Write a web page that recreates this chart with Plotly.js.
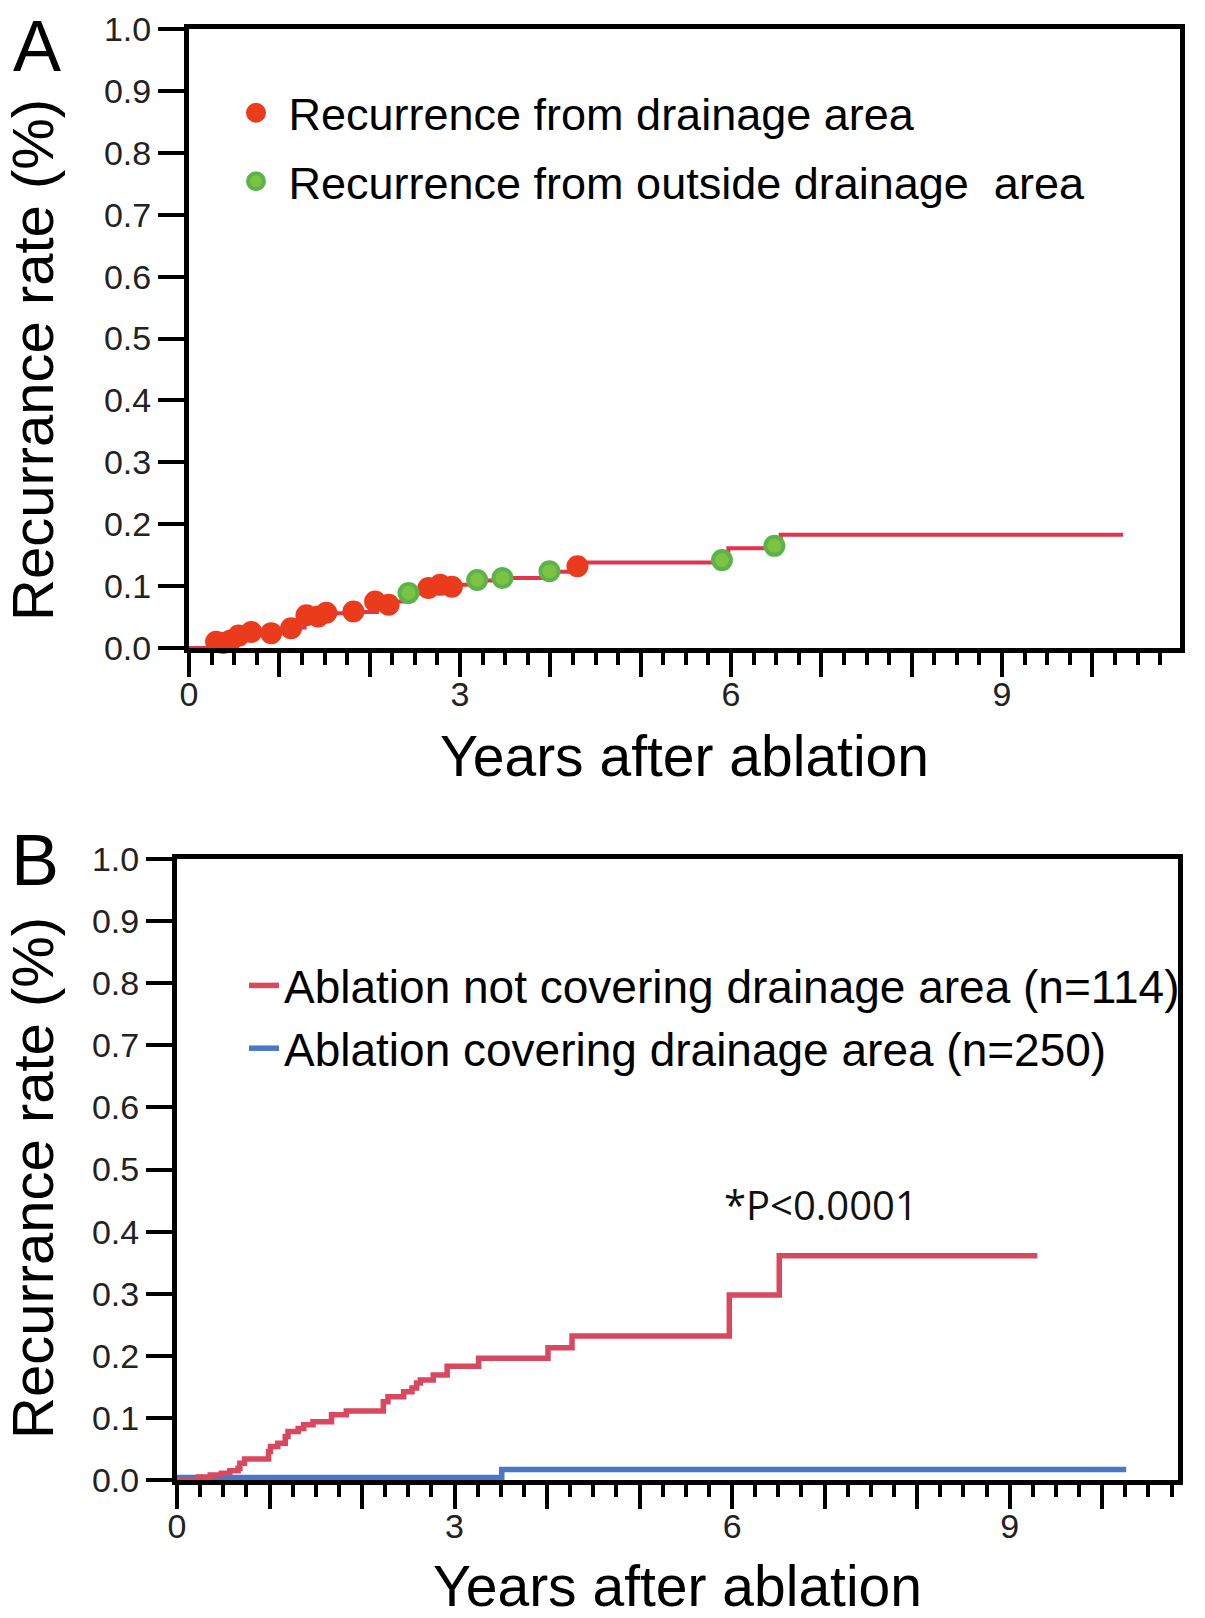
<!DOCTYPE html>
<html>
<head>
<meta charset="utf-8">
<script src="https://cdn.plot.ly/plotly-3.0.1.min.js"></script>
<style>
html,body{margin:0;padding:0;background:#fff;}
#chart{width:1205px;height:1618px;}
</style>
</head>
<body>
<div id="chart"></div>
<script>
// ---------- Panel A data (cumulative recurrence curve + events) ----------
const curveA_t = [0, 0.33, 0.42, 0.54, 0.65, 0.90, 1.14, 1.28, 1.45, 1.51, 1.80, 2.08, 2.17, 2.42, 2.63, 2.77, 2.88, 3.17, 3.45, 3.97, 4.30, 5.97, 6.55, 10.34];
const curveA_v = [0, 0.010, 0.012, 0.020, 0.025, 0.027, 0.033, 0.050, 0.053, 0.056, 0.058, 0.072, 0.075, 0.088, 0.097, 0.100, 0.102, 0.109, 0.113, 0.123, 0.138, 0.161, 0.183, 0.183];
const drainT = [0.30, 0.38, 0.46, 0.55, 0.69, 0.91, 1.13, 1.30, 1.43, 1.52, 1.82, 2.06, 2.21, 2.65, 2.78, 2.91, 4.30];
const drainV = [0.010, 0.008, 0.012, 0.020, 0.026, 0.024, 0.032, 0.053, 0.051, 0.057, 0.059, 0.075, 0.070, 0.097, 0.102, 0.099, 0.132];
const outsideT = [2.43, 3.19, 3.47, 3.99, 5.90, 6.48];
const outsideV = [0.089, 0.110, 0.113, 0.124, 0.142, 0.165];

// ---------- Panel B data ----------
const notCovT = [0, 0.23, 0.36, 0.48, 0.57, 0.66, 0.68, 0.73, 0.99, 1.01, 1.09, 1.17, 1.20, 1.31, 1.37, 1.47, 1.67, 1.83, 2.23, 2.28, 2.45, 2.54, 2.59, 2.63, 2.77, 2.92, 3.26, 4.01, 4.27, 5.97, 6.51, 9.30];
const notCovV = [0, 0.005, 0.008, 0.011, 0.015, 0.019, 0.027, 0.034, 0.046, 0.054, 0.059, 0.070, 0.078, 0.083, 0.089, 0.094, 0.105, 0.111, 0.126, 0.134, 0.142, 0.148, 0.156, 0.161, 0.169, 0.183, 0.196, 0.213, 0.232, 0.298, 0.361, 0.361];
const covT = [0, 3.51, 10.26];
const covV = [0.004, 0.017, 0.017];

// ---------- Labels ----------
const legendA = ['\u00a0Recurrence from drainage area', '\u00a0Recurrence from outside drainage\u00a0 area'];
const legendB = ['Ablation not covering drainage area (n=114)', 'Ablation covering drainage area (n=250)'];
const xTickVals = [0,1,2,3,4,5,6,7,8,9,10];
const xTickText = ['0','','','3','','','6','','','9',''];
const yTickVals = [0,0.1,0.2,0.3,0.4,0.5,0.6,0.7,0.8,0.9,1.0];
const yTickText = ['0.0','0.1','0.2','0.3','0.4','0.5','0.6','0.7','0.8','0.9','1.0'];
const xTitle = 'Years after ablation';
const yTitle = 'Recurrance rate (%)';
const pText = '*P<0.0001';

// ---------- Layout helpers ----------
const W = 1205, H = 1618;
const fx = p => p / W;
const fy = p => 1 - p / H;
const FONT = '"Liberation Sans", Arial, sans-serif';

function makeX(domain, range) {
  return {
    domain: domain, range: range, tickmode: 'array', tickvals: xTickVals, ticktext: xTickText,
    ticks: 'outside', ticklen: 24, tickwidth: 4, tickcolor: '#000', ticklabelstandoff: -12,
    showline: true, linewidth: 5, linecolor: '#000', mirror: true,
    showgrid: false, zeroline: false, fixedrange: true, automargin: false,
    tickfont: {family: FONT, size: 34, color: '#222'},
    minor: {tickmode: 'linear', tick0: 0, dtick: 0.25, ticks: 'outside', ticklen: 12, tickwidth: 4, tickcolor: '#000', showgrid: false},
    title: {text: xTitle, font: {family: FONT, size: 57, color: '#000'}, standoff: 26}
  };
}
function makeY(domain) {
  return {
    domain: domain, range: [0, 1], tickmode: 'array', tickvals: yTickVals, ticktext: yTickText,
    ticks: 'outside', ticklen: 26, tickwidth: 4, tickcolor: '#000',
    showline: true, linewidth: 5, linecolor: '#000', mirror: true,
    showgrid: false, zeroline: false, fixedrange: true, automargin: false,
    tickfont: {family: FONT, size: 34, color: '#222'}
  };
}

const traces = [
  {x: curveA_t, y: curveA_v, type: 'scatter', mode: 'lines', line: {shape: 'hv', color: '#e2344c', width: 4},
   showlegend: false, xaxis: 'x', yaxis: 'y', cliponaxis: false, hoverinfo: 'skip'},
  {x: drainT, y: drainV, type: 'scatter', mode: 'markers', name: legendA[0], legend: 'legend', legendgroup: 'a1',
   marker: {size: 18, color: '#ea3b1d', line: {width: 4, color: '#ea3b1d'}}, xaxis: 'x', yaxis: 'y', cliponaxis: false},
  {x: outsideT, y: outsideV, type: 'scatter', mode: 'markers', name: legendA[1], legend: 'legend', legendgroup: 'a2',
   marker: {size: 18, color: '#7cc243', line: {width: 4, color: '#5ab44a'}}, xaxis: 'x', yaxis: 'y', cliponaxis: false},
  {x: covT, y: covV, type: 'scatter', mode: 'lines', name: legendB[1], legend: 'legend2', legendgroup: 'b2', legendrank: 2,
   line: {shape: 'hv', color: '#4a78c6', width: 5.5}, xaxis: 'x2', yaxis: 'y2', cliponaxis: false},
  {x: notCovT, y: notCovV, type: 'scatter', mode: 'lines', name: legendB[0], legend: 'legend2', legendgroup: 'b1', legendrank: 1,
   line: {shape: 'hv', color: '#d8485e', width: 5.5}, xaxis: 'x2', yaxis: 'y2', cliponaxis: false}
];

const layout = {
  width: W, height: H,
  margin: {l: 0, r: 0, t: 0, b: 0},
  paper_bgcolor: '#fff', plot_bgcolor: '#fff',
  font: {family: FONT, color: '#000'},
  showlegend: true,
  xaxis: makeX([fx(189), fx(1180)], [0, 10.97]),
  yaxis: makeY([fy(648), fy(29)]),
  xaxis2: Object.assign(makeX([fx(177), fx(1178)], [0, 10.82]), {anchor: 'y2'}),
  yaxis2: Object.assign(makeY([fy(1480), fy(859)]), {anchor: 'x2'}),
  legend: {x: fx(236), y: fy(77), xanchor: 'left', yanchor: 'top', bgcolor: 'rgba(0,0,0,0)', borderwidth: 0,
           font: {family: FONT, size: 45, color: '#000'}, tracegroupgap: 7, traceorder: 'grouped'},
  legend2: {x: fx(244), y: fy(949), xanchor: 'left', yanchor: 'top', bgcolor: 'rgba(0,0,0,0)', borderwidth: 0,
            font: {family: FONT, size: 46, color: '#000'}, tracegroupgap: 0, traceorder: 'normal'},
  annotations: [
    {text: 'A', xref: 'paper', yref: 'paper', x: fx(37), y: fy(46), xanchor: 'center', yanchor: 'middle', showarrow: false,
     font: {family: FONT, size: 72, color: '#000'}},
    {text: 'B', xref: 'paper', yref: 'paper', x: fx(35), y: fy(860), xanchor: 'center', yanchor: 'middle', showarrow: false,
     font: {family: FONT, size: 72, color: '#000'}},
    {text: yTitle, xref: 'paper', yref: 'paper', x: fx(32), y: fy(360), xanchor: 'center', yanchor: 'middle', showarrow: false,
     textangle: -90, font: {family: FONT, size: 58, color: '#000'}},
    {text: yTitle, xref: 'paper', yref: 'paper', x: fx(32), y: fy(1178), xanchor: 'center', yanchor: 'middle', showarrow: false,
     textangle: -90, font: {family: FONT, size: 58, color: '#000'}},
    {text: pText, xref: 'x2', yref: 'y2', x: 6.96, y: 0.444, xanchor: 'center', yanchor: 'middle', showarrow: false,
     font: {family: '"Open Sans", sans-serif', size: 40, color: '#111'}}
  ]
};

Plotly.newPlot('chart', traces, layout, {staticPlot: true, displayModeBar: false});
</script>
</body>
</html>
